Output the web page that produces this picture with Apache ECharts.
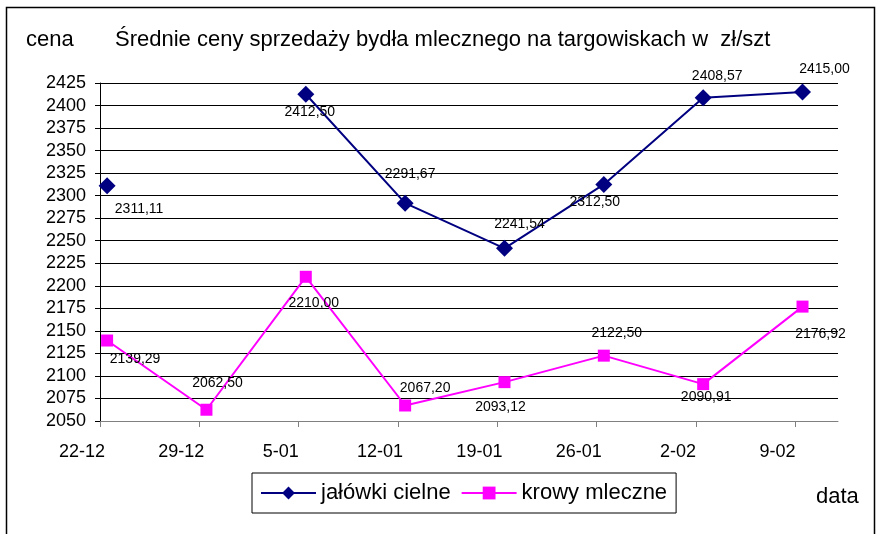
<!DOCTYPE html>
<html>
<head>
<meta charset="utf-8">
<script src="https://cdn.jsdelivr.net/npm/echarts@6/dist/echarts.min.js"></script>
<style>html,body{margin:0;padding:0;background:#fff;}#c{width:878px;height:534px;}</style>
</head>
<body>
<div id="c"></div>
<script>
// Data
const dateLabels = ['22-12', '29-12', '5-01', '12-01', '19-01', '26-01', '2-02', '9-02'];
const dayOffsets = [0, 7, 14, 21, 28, 35, 42, 49];           // days since 22-12
const jalowki = [2311.11, null, 2412.50, 2291.67, 2241.54, 2312.50, 2408.57, 2415.00];
const krowy = [2139.29, 2062.50, 2210.00, 2067.20, 2093.12, 2122.50, 2090.91, 2176.92];
const yTicks = { min: 2050, max: 2425, step: 25 };

// Label placement (styling only)
const jalOffsets = [[32, 23], null, [4, 18], [5, -29], [15, -24], [-9, 18], [14, -22], [22, -23]];
const krOffsets = [[28, 19], [11, -27], [8, 26], [20, -17], [-4, 25], [13, -23], [3, 13], [18, 28]];

const FONT = 'Liberation Sans, Arial, sans-serif';
const fmt = v => v.toFixed(2).replace('.', ',');

function build(values, offsets) {
  return values.map((v, i) => {
    if (v === null) return [dayOffsets[i] + 0.5, null];
    return {
      value: [dayOffsets[i] + 0.5, v],
      label: { offset: offsets[i] }
    };
  });
}

const chart = echarts.init(document.getElementById('c'), null, { renderer: 'canvas' });
chart.setOption({
  animation: false,
  backgroundColor: '#fff',
  textStyle: { fontFamily: FONT },
  grid: { left: 100, right: 40, top: 83, bottom: 113, containLabel: false },
  graphic: [
    { type: 'rect', shape: { x: 6.5, y: 7.5, width: 868, height: 540 }, style: { fill: 'none', stroke: '#000', lineWidth: 1.5 }, silent: true },
    { type: 'text', x: 26, y: 40, style: { text: 'cena', font: '22px ' + FONT, fill: '#000', textVerticalAlign: 'middle' } },
    { type: 'text', x: 115, y: 40, style: { text: 'Średnie ceny sprzedaży bydła mlecznego na targowiskach w  zł/szt', font: '22px ' + FONT, fill: '#000', textVerticalAlign: 'middle' } },
    { type: 'text', x: 816, y: 497, style: { text: 'data', font: '22px ' + FONT, fill: '#000', textVerticalAlign: 'middle' } }
  ],
  legend: {
    left: 252, top: 473,
    padding: [9, 9, 9, 8],
    borderColor: '#000', borderWidth: 1,
    itemWidth: 55, itemHeight: 16, itemGap: 10,
    textStyle: { fontSize: 22, color: '#000', fontFamily: FONT, padding: [0, 0, 0, 0] },
    data: ['jałówki cielne', 'krowy mleczne']
  },
  xAxis: {
    type: 'value', min: 0, max: 52, interval: 7,
    axisLine: { show: true, lineStyle: { color: '#808080', width: 1 } },
    axisTick: { show: true, length: 6, customValues: dayOffsets, lineStyle: { color: '#808080' } },
    splitLine: { show: false },
    axisLabel: {
      customValues: dayOffsets,
      formatter: v => { const i = dayOffsets.indexOf(v); return i >= 0 ? dateLabels[i] : ''; },
      fontSize: 18, color: '#000', fontFamily: FONT, margin: 22,
      align: 'center', padding: [0, 36, 0, 0]
    }
  },
  yAxis: {
    type: 'value', min: yTicks.min, max: yTicks.max, interval: yTicks.step,
    axisLine: { show: true, lineStyle: { color: '#000', width: 1 } },
    axisTick: { show: true, length: 5, lineStyle: { color: '#000' } },
    splitLine: { show: true, lineStyle: { color: '#000', width: 1 } },
    axisLabel: { fontSize: 18, color: '#000', fontFamily: FONT, margin: 14, formatter: v => String(v) }
  },
  series: [
    {
      name: 'jałówki cielne', type: 'line',
      data: build(jalowki, jalOffsets),
      connectNulls: false,
      symbol: 'diamond', symbolSize: 17,
      lineStyle: { color: '#000080', width: 2 },
      itemStyle: { color: '#000080' },
      label: { show: true, position: 'inside', formatter: p => fmt(p.value[1]), fontSize: 14, color: '#000', fontFamily: FONT }
    },
    {
      name: 'krowy mleczne', type: 'line',
      data: build(krowy, krOffsets),
      symbol: 'rect', symbolSize: 12,
      lineStyle: { color: '#FF00FF', width: 2 },
      itemStyle: { color: '#FF00FF' },
      label: { show: true, position: 'inside', formatter: p => fmt(p.value[1]), fontSize: 14, color: '#000', fontFamily: FONT }
    }
  ]
});
</script>
</body>
</html>
